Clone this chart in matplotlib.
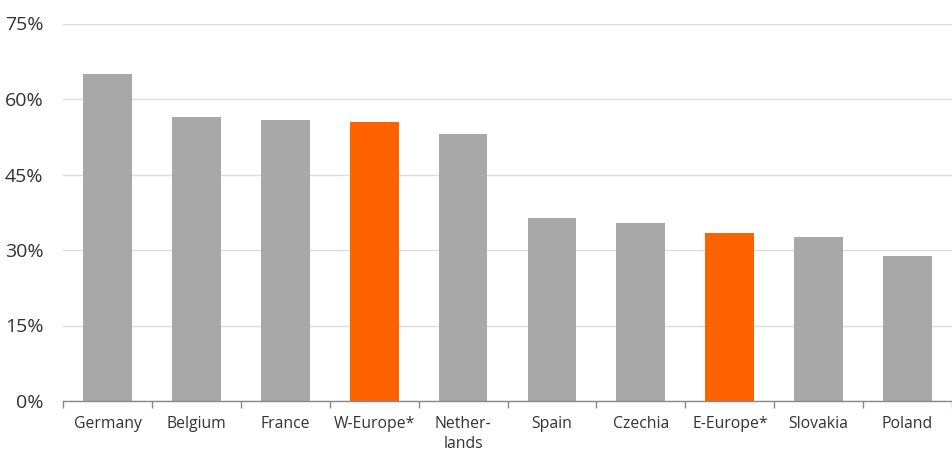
import matplotlib.pyplot as plt
import numpy as np

countries = ['Germany', 'Belgium', 'France', 'W-Europe*', 'Nether-\nlands',
             'Spain', 'Czechia', 'E-Europe*', 'Slovakia', 'Poland']
shares = [65.0, 56.4, 55.8, 55.4, 53.0, 36.3, 35.3, 33.4, 32.5, 28.9]
highlight = ['W-Europe*', 'E-Europe*']

grey = '#a8a8a8'
orange = '#ff6200'

plt.rcParams['font.family'] = ['Open Sans', 'DejaVu Sans']

fig = plt.figure(figsize=(9.52, 4.66), dpi=100)
ax = fig.add_axes([63 / 952, 65 / 466, 1 - 63 / 952, (401 - 23.5) / 466])

x = np.arange(len(countries))
colors = [orange if c in highlight else grey for c in countries]
ax.bar(x, shares, width=0.55, color=colors, zorder=2)

ax.set_xlim(-0.5, len(countries) - 0.5)
ax.set_ylim(0, 75)
ax.set_yticks(np.arange(0, 76, 15))
ax.set_yticklabels(['%d%%' % v for v in np.arange(0, 76, 15)],
                   fontsize=14, color='#333333')
ax.yaxis.grid(True, color='#dddddd', linewidth=1, zorder=0)
ax.tick_params(axis='y', length=0, pad=14)

ax.set_xticks(x)
ax.set_xticklabels(countries, fontsize=11.3, color='#333333', linespacing=1.35)
ax.set_xticks(np.arange(-0.5, len(countries), 1), minor=True)
ax.tick_params(axis='x', which='major', length=0, pad=11)
ax.tick_params(axis='x', which='minor', length=5, color='#888888', width=1)

for s in ['top', 'right', 'left']:
    ax.spines[s].set_visible(False)
ax.spines['bottom'].set_color('#888888')
ax.spines['bottom'].set_linewidth(1)
ax.spines['bottom'].set_zorder(3)

fig.savefig('out.png', dpi=100)
